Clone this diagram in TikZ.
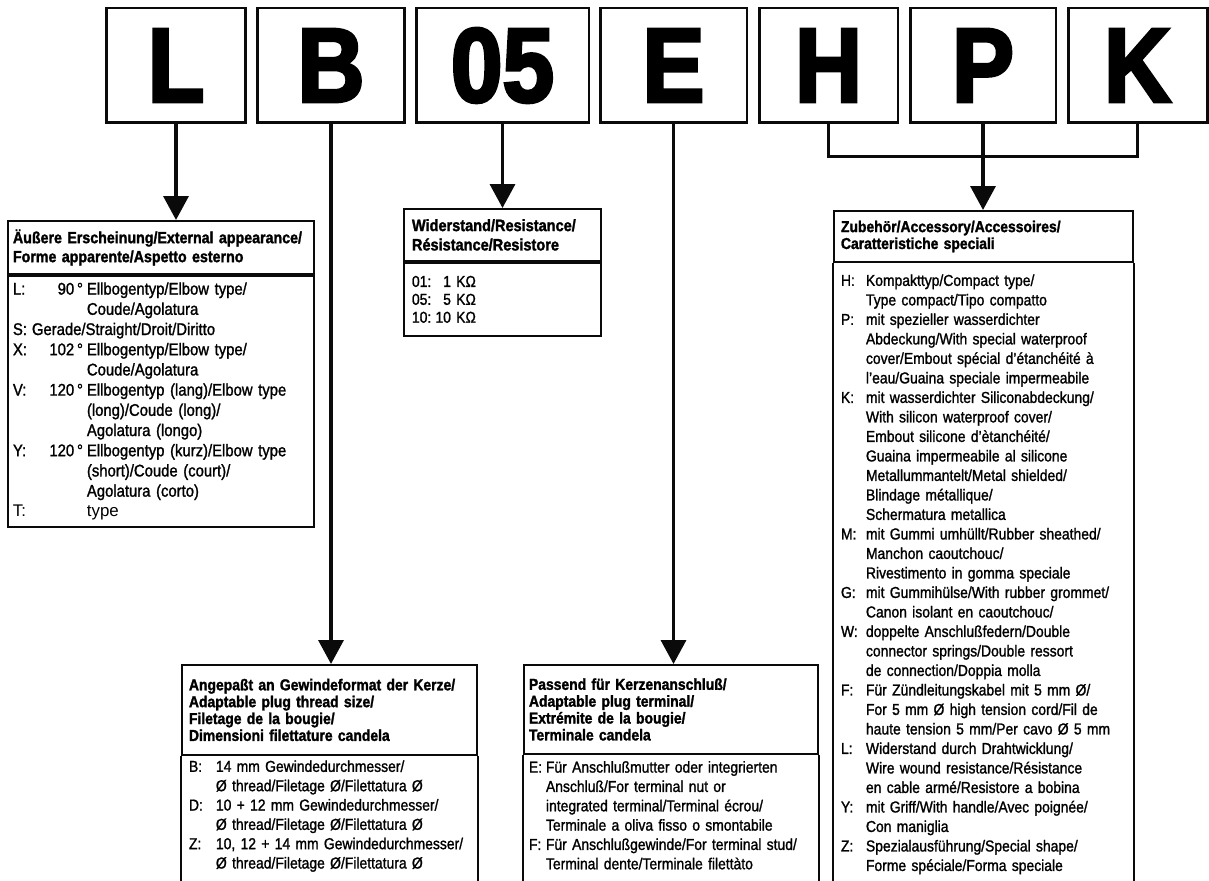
\documentclass[tikz,border=0pt]{standalone}
\usepackage{fontspec}
\setmainfont{Liberation Sans}[FakeStretch=0.88, FakeBold=1.3]
\newfontfamily\headfont{Liberation Sans Bold}[FakeStretch=0.88, FakeBold=1.6]
\newfontfamily\codefont{Liberation Sans Bold}[FakeStretch=0.88, FakeBold=3]
\newfontfamily\typefont{Liberation Sans}
\usetikzlibrary{arrows.meta,positioning,calc}
\definecolor{inkBlack}{HTML}{0A0A0A}

% key column helpers for the code lists
\newcommand{\keyed}[3]{\makebox[#1][l]{#2}#3}
\newcommand{\indented}[2]{\hspace*{#1}#2}
\newcommand{\angled}[3]{\makebox[0.38cm][l]{#1}\makebox[1.02cm][r]{#2}\hspace{0.08cm}#3}

\tikzset{
  codebox/.style={draw=inkBlack, line width=1.7pt, minimum height=2.3cm, inner sep=0pt,
    font=\codefont\fontsize{60}{60}\selectfont},
  headbox/.style={draw=inkBlack, line width=1.1pt, anchor=north west, align=left,
    inner ysep=2pt, font=\headfont\fontsize{9}{10.5}\selectfont},
  bodybox/.style={draw=inkBlack, line width=1.1pt, anchor=north west, align=left,
    inner ysep=3pt, font=\fontsize{9}{11}\selectfont},
  openbody/.style={bodybox, draw=none},
  boxline/.style={draw=inkBlack, line width=1.1pt},
  link/.style={draw=inkBlack, line width=2pt},
  feed/.style={link, -{Triangle[length=4.8mm,width=5mm]}}
}

\begin{document}
\begin{tikzpicture}[x=0.02cm, y=-0.02cm]
  \useasboundingbox (0,0) rectangle (1209,881);
  \fill[white] (0,0) rectangle (1209,881);
  \coordinate (pageFoot) at (0,881);

  % type code letters
  \foreach \name/\x/\w/\txt in {cL/176/2.8/L, cB/331/2.96/B, cR/502.5/3.46/05,
      cE/673.5/2.94/E, cH/828.5/2.78/H, cP/983/2.92/P, cK/1137.5/2.78/K}{
    \node[codebox, minimum width=\w cm] (\name) at (\x,65.5) {\txt};
  }

  % external appearance
  \node[headbox, text width=5.92cm, inner xsep=0.1cm, minimum height=1.06cm,
    font=\headfont\fontsize{9.2}{10.8}\selectfont] (appHead) at (7,220)
    {Äußere Erscheinung/External appearance/\\Forme apparente/Aspetto esterno};
  \node[bodybox, text width=5.92cm, inner xsep=0.1cm, minimum height=5.02cm,
    font=\fontsize{9.6}{11.5}\selectfont] (appBody) at (appHead.south west)
    {\angled{L:}{90\,°}{Ellbogentyp/Elbow type/}\\
     \indented{1.48cm}{Coude/Agolatura}\\
     \keyed{0.38cm}{S:}{Gerade/Straight/Droit/Diritto}\\
     \angled{X:}{102\,°}{Ellbogentyp/Elbow type/}\\
     \indented{1.48cm}{Coude/Agolatura}\\
     \angled{V:}{120\,°}{Ellbogentyp (lang)/Elbow type}\\
     \indented{1.48cm}{(long)/Coude (long)/}\\
     \indented{1.48cm}{Agolatura (longo)}\\
     \angled{Y:}{120\,°}{Ellbogentyp (kurz)/Elbow type}\\
     \indented{1.48cm}{(short)/Coude (court)/}\\
     \indented{1.48cm}{Agolatura (corto)}\\
     {\typefont\keyed{1.48cm}{T:}{type}}};

  % resistance
  \node[headbox, text width=3.62cm, inner xsep=0.16cm, minimum height=1.04cm,
    font=\headfont\fontsize{9.4}{11}\selectfont] (resHead) at (403,208)
    {Widerstand/Resistance/\\Résistance/Resistore};
  \node[bodybox, text width=3.62cm, inner xsep=0.16cm, minimum height=1.46cm,
    font=\fontsize{9}{10.2}\selectfont] (resBody) at (resHead.south west)
    {\keyed{0.44cm}{01:}{\makebox[0.34cm][r]{1} KΩ}\\
     \keyed{0.44cm}{05:}{\makebox[0.34cm][r]{5} KΩ}\\
     \keyed{0.44cm}{10:}{\makebox[0.34cm][r]{10} KΩ}};

  % plug thread
  \node[headbox, text width=5.62cm, inner xsep=0.14cm, minimum height=1.8cm,
    font=\headfont\fontsize{9}{9.6}\selectfont] (thrHead) at (181,664)
    {Angepaßt an Gewindeformat der Kerze/\\Adaptable plug thread size/\\
     Filetage de la bougie/\\Dimensioni filettature candela};
  \node[openbody, text width=5.62cm, inner xsep=0.14cm, inner ysep=2pt] (thrBody) at (thrHead.south west)
    {\keyed{0.54cm}{B:}{14 mm Gewindedurchmesser/}\\
     \indented{0.54cm}{Ø thread/Filetage Ø/Filettatura Ø}\\
     \keyed{0.54cm}{D:}{10 + 12 mm Gewindedurchmesser/}\\
     \indented{0.54cm}{Ø thread/Filetage Ø/Filettatura Ø}\\
     \keyed{0.54cm}{Z:}{10, 12 + 14 mm Gewindedurchmesser/}\\
     \indented{0.54cm}{Ø thread/Filetage Ø/Filettatura Ø}};

  % plug terminal
  \node[headbox, text width=5.68cm, inner xsep=0.1cm, minimum height=1.78cm,
    font=\headfont\fontsize{9}{9.6}\selectfont] (terHead) at (523,664)
    {Passend für Kerzenanschluß/\\Adaptable plug terminal/\\
     Extrémite de la bougie/\\Terminale candela};
  \node[openbody, text width=5.68cm, inner xsep=0.1cm] (terBody) at (terHead.south west)
    {\keyed{0.34cm}{E:}{Für Anschlußmutter oder integrierten}\\
     \indented{0.34cm}{Anschluß/For terminal nut or}\\
     \indented{0.34cm}{integrated terminal/Terminal écrou/}\\
     \indented{0.34cm}{Terminale a oliva fisso o smontabile}\\
     \keyed{0.34cm}{F:}{Für Anschlußgewinde/For terminal stud/}\\
     \indented{0.34cm}{Terminal dente/Terminale filettàto}};

  % accessories
  \node[headbox, text width=5.7cm, inner xsep=0.14cm, minimum height=1.02cm,
    font=\headfont\fontsize{9}{9.6}\selectfont] (accHead) at (833,210)
    {Zubehör/Accessory/Accessoires/\\Caratteristiche speciali};
  \node[openbody, text width=5.7cm, inner xsep=0.14cm, inner ysep=6pt,
    font=\fontsize{9}{11.1}\selectfont] (accBody) at (accHead.south west)
    {\keyed{0.5cm}{H:}{Kompakttyp/Compact type/}\\
     \indented{0.5cm}{Type compact/Tipo compatto}\\
     \keyed{0.5cm}{P:}{mit spezieller wasserdichter}\\
     \indented{0.5cm}{Abdeckung/With special waterproof}\\
     \indented{0.5cm}{cover/Embout spécial d'étanchéité à}\\
     \indented{0.5cm}{l'eau/Guaina speciale impermeabile}\\
     \keyed{0.5cm}{K:}{mit wasserdichter Siliconabdeckung/}\\
     \indented{0.5cm}{With silicon waterproof cover/}\\
     \indented{0.5cm}{Embout silicone d'ètanchéité/}\\
     \indented{0.5cm}{Guaina impermeabile al silicone}\\
     \indented{0.5cm}{Metallummantelt/Metal shielded/}\\
     \indented{0.5cm}{Blindage métallique/}\\
     \indented{0.5cm}{Schermatura metallica}\\
     \keyed{0.5cm}{M:}{mit Gummi umhüllt/Rubber sheathed/}\\
     \indented{0.5cm}{Manchon caoutchouc/}\\
     \indented{0.5cm}{Rivestimento in gomma speciale}\\
     \keyed{0.5cm}{G:}{mit Gummihülse/With rubber grommet/}\\
     \indented{0.5cm}{Canon isolant en caoutchouc/}\\
     \keyed{0.5cm}{W:}{doppelte Anschlußfedern/Double}\\
     \indented{0.5cm}{connector springs/Double ressort}\\
     \indented{0.5cm}{de connection/Doppia molla}\\
     \keyed{0.5cm}{F:}{Für Zündleitungskabel mit 5 mm Ø/}\\
     \indented{0.5cm}{For 5 mm Ø high tension cord/Fil de}\\
     \indented{0.5cm}{haute tension 5 mm/Per cavo Ø 5 mm}\\
     \keyed{0.5cm}{L:}{Widerstand durch Drahtwicklung/}\\
     \indented{0.5cm}{Wire wound resistance/Résistance}\\
     \indented{0.5cm}{en cable armé/Resistore a bobina}\\
     \keyed{0.5cm}{Y:}{mit Griff/With handle/Avec poignée/}\\
     \indented{0.5cm}{Con maniglia}\\
     \keyed{0.5cm}{Z:}{Spezialausführung/Special shape/}\\
     \indented{0.5cm}{Forme spéciale/Forma speciale}};

  % open sides of the lower boxes
  \foreach \hd in {thrHead, terHead, accHead}{
    \draw[boxline] (\hd.south west) -- (\hd.south west |- pageFoot);
    \draw[boxline] (\hd.south east) -- (\hd.south east |- pageFoot);
  }

  % connectors
  \draw[feed] (cL.south) -- (cL.south |- appHead.north);
  \draw[feed] (cB.south) -- (cB.south |- thrHead.north);
  \draw[feed] (cR.south) -- (cR.south |- resHead.north);
  \draw[feed] (cE.south) -- (cE.south |- terHead.north);
  \coordinate (accJoin) at ($(cP.south)+(0,32)$);
  \draw[link] (cH.south) |- (accJoin) -| (cK.south);
  \draw[link] (cP.south) -- (accJoin);
  \draw[feed] (accJoin) -- (accJoin |- accHead.north);
\end{tikzpicture}
\end{document}
